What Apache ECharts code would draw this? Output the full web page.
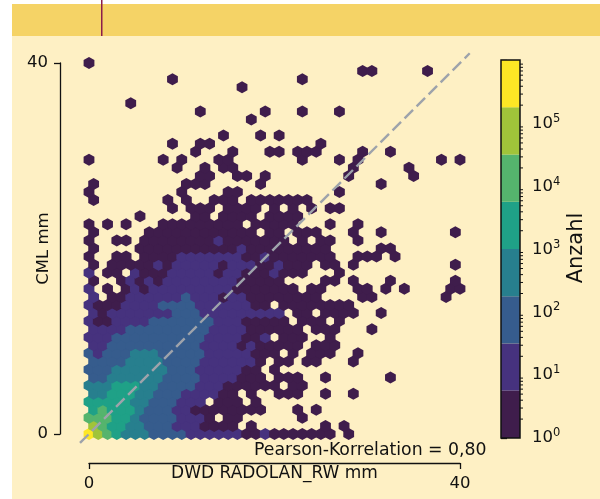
<!doctype html>
<html>
    <head>
        <meta charset="utf-8">
        <style>
            html, body { margin: 0; padding: 0; background: #fff; }
            #main { width: 600px; height: 499px; }
        </style>
    </head>
    <body>
        <div id="main"></div>
        <script src="https://cdn.jsdelivr.net/npm/echarts@6/dist/echarts.min.js"></script>
        <script>
            // hexbin cells, bottom row first, one char per column
            // 1-8 is the colour band of the cell, dot means no cell
            var hexRows = [
                '876544433332222221121111111.1',
                '7655443332221111.1.......1.1',
                '66655433332221.11......1',
                '5655543332211111111...1.1',
                '5555544333222.111.1',
                '4455544333222211.1..111..1..1',
                '444555443333222111111.11',
                '3344444433332222111.111..1......1',
                '3334444443332222211.1',
                '3333444433332222221.11.11...1',
                '323334443333322222111.1.111..1',
                '22333333333322221211111.111',
                '22233333333332222112.111..1',
                '22223333333332222111111.111...1',
                '2112222333333322211111.111.1',
                '212222222333222222222.11.1111..1',
                '21112222333322222211.11111111',
                '2.11222222322212211111111....11.......1',
                '2.1.1212222222221111111.11...11.1.1....11',
                '1..121212222222211111....11.1...1......1',
                '2.11.2111222221221112111...1',
                '1.1111121222221222112111.11.1..........1',
                '1..11.111122222221121111111..111.1',
                '1....111111111112111111111.....11',
                '1..11.1111111121111111.1.11..1',
                '1.....111111111111.11.111...1..1.......1',
                '1.1.1...111111111.11111...1..1',
                '.....1.....11.1111.1111',
                '.........1.111.1111.1.1.1.11',
                '1.......1.1..111.1111111',
                '1.........1....11..........1',
                '1.........111.....1............1',
                '............11..11.1........1......1',
                '.........1..1.11............1.....1',
                '1.......1.1...11.......1...1.1........1.1',
                '...........1...1...11.111....1..1',
                '.........1..11...........1',
                '..............1...1.1',
                '',
                '.................1',
                '............1......1...1...1',
                '....1',
                '',
                '................1',
                '.........1.............1',
                '.............................11.....1',
                '1'
            ];
            // estimated bin count for each colour band
            var bandCounts = [2, 12, 80, 450, 2500, 14000, 80000, 450000];
            var bandEdges = [1, 5.66, 32, 181, 1023, 5788, 32734, 185000, 1047000];
            var bandColors = ['#3f1d4c', '#46327e', '#365c8d', '#277f8e', '#1fa187', '#55b46d', '#a0c43a', '#fde725'];
            var axisTicks = [0, 40];
            var lineStart = -0.97;
            var lineEnd = 41.05;
            var identityLine = [[lineStart, lineStart], [lineEnd, lineEnd]];

            var rowStep = 40 / 46;
            var hexData = [];
            hexRows.forEach(function (row, r) {
                row.split('').forEach(function (ch, c) {
                    if (ch === '.') {
                        return;
                    }
                    hexData.push([c + (r % 2 ? 0.5 : 0), r * rowStep, bandCounts[+ch - 1]]);
                });
            });

            var bandData = bandColors.map(function (color, i) {
                return [0, bandEdges[i], bandEdges[i + 1], i];
            });

            var minorTicks = [];
            for (var k = 0; k < 6; k++) {
                for (var m = 2; m < 10; m++) {
                    minorTicks.push([1, m * Math.pow(10, k)]);
                }
            }

            var textColor = '#111';
            var font = 'DejaVu Sans';

            var chart = echarts.init(document.getElementById('main'));

            chart.setOption({
                animation: false,
                graphic: [
                    { type: 'rect', z: -10, shape: { x: 12, y: 36, width: 588, height: 463 }, style: { fill: '#fef0c4' } },
                    { type: 'rect', z: -10, shape: { x: 12, y: 4, width: 588, height: 32 }, style: { fill: '#f5d366' } },
                    { type: 'rect', z: -9, shape: { x: 101, y: 0, width: 1.5, height: 36 }, style: { fill: '#8c1d4a' } },
                    {
                        type: 'text', z: 10, left: 254, top: 442,
                        style: { text: 'Pearson-Korrelation = 0,80', font: '17.3px "DejaVu Sans"', fill: textColor }
                    },
                    {
                        type: 'text', z: 10, rotation: Math.PI / 2, x: 577, y: 248,
                        style: { text: 'Anzahl', font: '21px "DejaVu Sans"', fill: textColor, align: 'center', verticalAlign: 'middle' }
                    }
                ],
                grid: [
                    { left: 89, top: 63, width: 371, height: 371, outerBoundsMode: 'none' },
                    { left: 501, top: 60, width: 19, height: 378, outerBoundsMode: 'none', show: true, borderColor: '#111', borderWidth: 1.5, backgroundColor: 'transparent', z: 5 },
                    // same scale as the first grid, only wider, for the 1:1 line that runs past the axes
                    { left: 80, top: 53.26, width: 389.7, height: 389.7, outerBoundsMode: 'none' }
                ],
                xAxis: [
                    {
                        type: 'value', gridIndex: 0, min: axisTicks[0], max: axisTicks[1], interval: 40,
                        offset: 29,
                        name: 'DWD RADOLAN_RW mm', nameLocation: 'middle', nameGap: 2, nameMoveOverlap: false,
                        nameTextStyle: { fontFamily: font, fontSize: 17, color: textColor },
                        axisLine: { onZero: false, lineStyle: { color: textColor, width: 1.3 } },
                        axisTick: { length: 6, lineStyle: { color: textColor, width: 1.3 } },
                        axisLabel: { margin: 12, fontFamily: font, fontSize: 16.5, color: textColor, showMinLabel: true, showMaxLabel: true },
                        splitLine: { show: false }
                    },
                    { type: 'value', gridIndex: 1, min: 0, max: 1, show: false },
                    { type: 'value', gridIndex: 2, min: lineStart, max: lineEnd, show: false }
                ],
                yAxis: [
                    {
                        type: 'value', gridIndex: 0, min: axisTicks[0], max: axisTicks[1], interval: 40,
                        offset: 29,
                        name: 'CML mm', nameLocation: 'middle', nameGap: 8, nameMoveOverlap: false,
                        nameTextStyle: { fontFamily: font, fontSize: 16.5, color: textColor },
                        axisLine: { onZero: false, lineStyle: { color: textColor, width: 1.3 } },
                        axisTick: { length: 6, lineStyle: { color: textColor, width: 1.3 } },
                        axisLabel: { margin: 12, fontFamily: font, fontSize: 16.5, color: textColor },
                        splitLine: { show: false }
                    },
                    {
                        type: 'log', gridIndex: 1, min: 1, max: 1047000, position: 'right', logBase: 10,
                        axisLine: { show: false },
                        axisTick: { length: 6, lineStyle: { color: textColor, width: 1.3 } },
                        axisLabel: {
                            margin: 12, color: textColor,
                            formatter: function (value) {
                                var power = Math.round(Math.log(value) / Math.LN10);
                                return power > 5 ? '' : '{a|10}{b|' + power + '}';
                            },
                            rich: {
                                a: { fontFamily: font, fontSize: 16.5, color: textColor, lineHeight: 22 },
                                b: { fontFamily: font, fontSize: 11.5, color: textColor, verticalAlign: 'top', lineHeight: 14 }
                            }
                        },
                        splitLine: { show: false }
                    },
                    { type: 'value', gridIndex: 2, min: lineStart, max: lineEnd, show: false }
                ],
                visualMap: {
                    show: false,
                    type: 'piecewise',
                    seriesIndex: 0,
                    dimension: 2,
                    pieces: bandColors.map(function (color, i) {
                        return { gte: bandEdges[i], lt: bandEdges[i + 1], color: color };
                    })
                },
                series: [
                    {
                        type: 'scatter',
                        xAxisIndex: 0,
                        yAxisIndex: 0,
                        clip: false,
                        silent: true,
                        symbol: 'path://M0,-2L1.732,-1L1.732,1L0,2L-1.732,1L-1.732,-1Z',
                        symbolSize: [10.8, 12],
                        itemStyle: { opacity: 1 },
                        data: hexData
                    },
                    {
                        type: 'line',
                        xAxisIndex: 2,
                        yAxisIndex: 2,
                        silent: true,
                        showSymbol: false,
                        z: 4,
                        lineStyle: { color: '#9ea3ab', width: 2.4, type: [12, 5] },
                        data: identityLine
                    },
                    {
                        type: 'custom',
                        xAxisIndex: 1,
                        yAxisIndex: 1,
                        silent: true,
                        encode: { x: 0, y: [1, 2] },
                        renderItem: function (params, api) {
                            var low = api.coord([0, api.value(1)]);
                            var high = api.coord([1, api.value(2)]);
                            return {
                                type: 'rect',
                                shape: { x: low[0], y: high[1], width: high[0] - low[0], height: low[1] - high[1] },
                                style: { fill: bandColors[api.value(3)] }
                            };
                        },
                        data: bandData
                    },
                    {
                        type: 'custom',
                        xAxisIndex: 1,
                        yAxisIndex: 1,
                        silent: true,
                        clip: false,
                        encode: { x: 0, y: 1 },
                        renderItem: function (params, api) {
                            var p = api.coord([1, api.value(1)]);
                            return {
                                type: 'line',
                                shape: { x1: p[0], y1: p[1], x2: p[0] + 3, y2: p[1] },
                                style: { stroke: textColor, lineWidth: 1 }
                            };
                        },
                        data: minorTicks
                    }
                ]
            });

            window.onresize = chart.resize;
        </script>
    </body>
</html>
